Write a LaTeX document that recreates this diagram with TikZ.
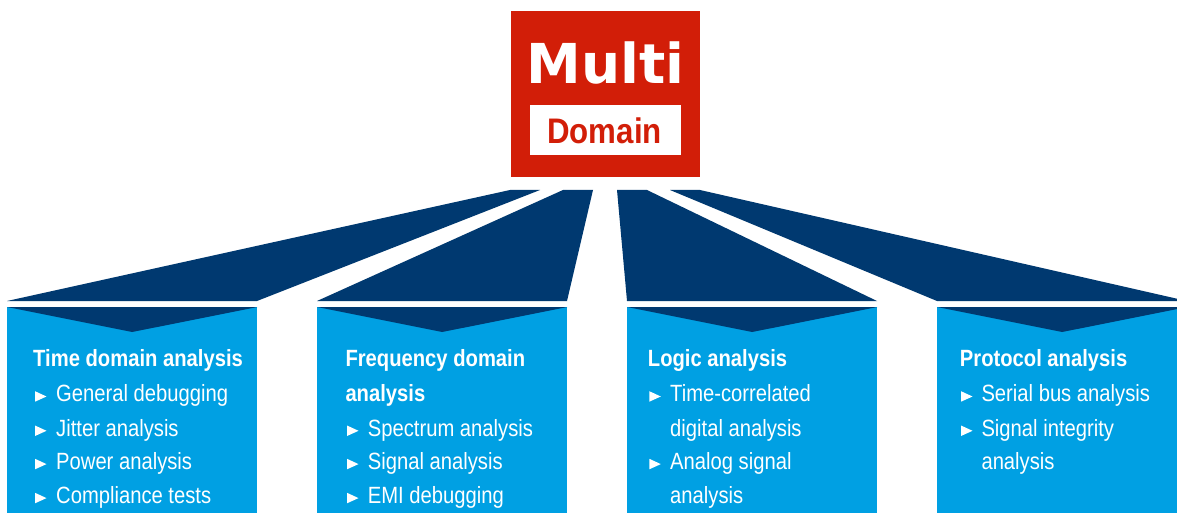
\documentclass[tikz,border=0pt]{standalone}
\usepackage{fontspec}
\setmainfont{Liberation Sans}
\newfontfamily\condfont[FakeStretch=0.86]{Liberation Sans}
\newfontfamily\domfont[FakeStretch=0.88]{Liberation Sans}
\newfontfamily\multifont{DejaVu Sans}
\definecolor{rsred}{RGB}{210,30,8}
\definecolor{rsdark}{RGB}{0,57,112}
\definecolor{rslight}{RGB}{0,160,227}
\newcommand\mybul[2]{\fill[white] (#1,#2-10.5) -- (#1+11.5,#2-5.2) -- (#1,#2) -- cycle;}
\begin{document}
\begin{tikzpicture}[x=1pt,y=-1pt,
  hdr/.style={anchor=base west, text=white, inner sep=0pt, font=\condfont\bfseries\fontsize{23.5}{27}\selectfont},
  itm/.style={anchor=base west, text=white, inner sep=0pt, font=\condfont\fontsize{23.5}{27}\selectfont},
  fan/.style={fill=rsdark},
  panel/.style={fill=rslight, draw=none, anchor=north west, minimum width=250pt, minimum height=220pt, inner sep=0pt},
  chev/.style={fill=rsdark}]
\useasboundingbox (0,0) rectangle (1177,513);
\clip (0,0) rectangle (1177,513);
\fill[white] (0,0) rectangle (1177,513);

% top box
\node[fill=rsred, minimum width=189pt, minimum height=166pt, inner sep=0pt, anchor=north west] (multi) at (511,11) {};
\node[anchor=base, text=white, inner sep=0pt, font=\multifont\bfseries\fontsize{55}{55}\selectfont] (multitxt) at (605.5,83.3) {Multi};
\node[fill=white, minimum width=151pt, minimum height=50pt, inner sep=0pt, anchor=north west] (dombox) at (530,105) {};
\node[anchor=base, text=rsred, inner sep=0pt, font=\domfont\bfseries\fontsize{35.5}{35}\selectfont] (domtxt) at (604.5,143.3) {Domain};

% fans
\fill[fan] (510,190) -- (540,190) -- (257,301) -- (7,301) -- cycle;
\fill[fan] (563,190) -- (593,190) -- (567,301) -- (317,301) -- cycle;
\fill[fan] (617,190) -- (647,190) -- (877,301) -- (627,301) -- cycle;
\fill[fan] (670,190) -- (700,190) -- (1187,301) -- (937,301) -- cycle;

% panels
\node[panel] (p1) at (7,307) {};
\node[panel] (p2) at (317,307) {};
\node[panel] (p3) at (627,307) {};
\node[panel] (p4) at (937,307) {};
\foreach \p in {p1,p2,p3,p4}{
  \fill[chev] (\p.north west) -- (\p.north east) -- ([yshift=-25pt]\p.north) -- cycle;
}

% panel 1
\node[hdr] (h1) at (33,366.7) {Time domain analysis};
\mybul{35}{401.7}\node[itm] (a1) at (56,401.7) {General debugging};
\mybul{35}{436}\node[itm] (a2) at (56,436) {Jitter analysis};
\mybul{35}{469.3}\node[itm] (a3) at (56,469.3) {Power analysis};
\mybul{35}{503.3}\node[itm] (a4) at (56,503.3) {Compliance tests};

% panel 2
\node[hdr] (h2) at (345.3,366.7) {Frequency domain};
\node[hdr] (h2b) at (345.3,401.7) {analysis};
\mybul{347}{436}\node[itm] (b1) at (367.7,436) {Spectrum analysis};
\mybul{347}{469.3}\node[itm] (b2) at (367.7,469.3) {Signal analysis};
\mybul{347}{503.3}\node[itm] (b3) at (367.7,503.3) {EMI debugging};

% panel 3
\node[hdr] (h3) at (647.7,366.7) {Logic analysis};
\mybul{649.3}{401.7}\node[itm] (c1) at (670,401.7) {Time-correlated};
\node[itm] (c1b) at (670,436) {digital analysis};
\mybul{649.3}{469.3}\node[itm] (c2) at (670,469.3) {Analog signal};
\node[itm] (c2b) at (670,503.3) {analysis};

% panel 4
\node[hdr] (h4) at (959.7,366.7) {Protocol analysis};
\mybul{961}{401.7}\node[itm] (d1) at (981.3,401.7) {Serial bus analysis};
\mybul{961}{436}\node[itm] (d2) at (981.3,436) {Signal integrity};
\node[itm] (d2b) at (981.3,469.3) {analysis};
\end{tikzpicture}
\end{document}
